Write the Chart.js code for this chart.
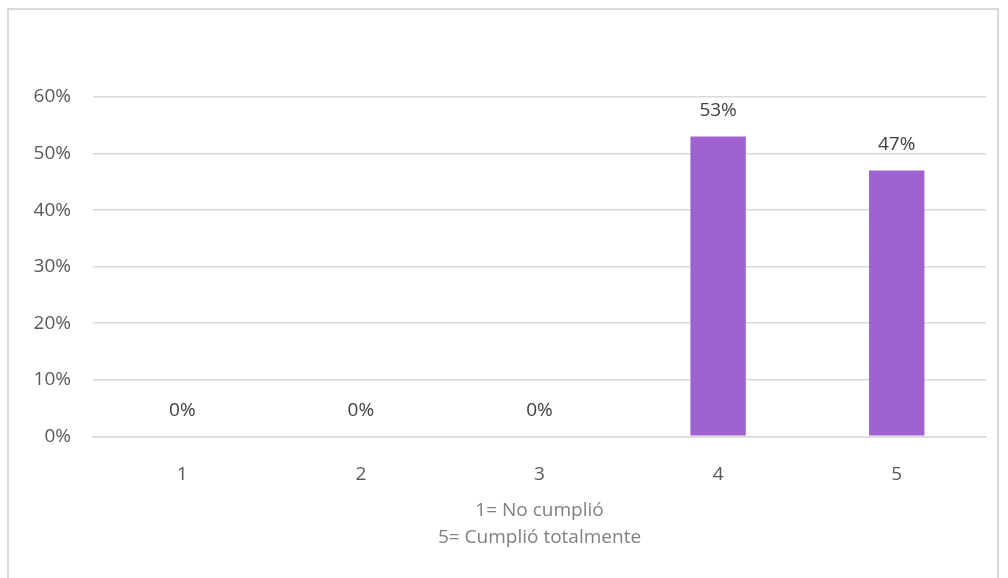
<!DOCTYPE html>
<html>
<head>
<meta charset="utf-8">
<script src="https://cdn.jsdelivr.net/npm/chart.js@4"></script>
<style>
  body { margin: 0; background: #fff; }
  #box {
    position: absolute; left: 7px; top: 8px; width: 992px; height: 580px;
    border: 2px solid #d9d9d9; box-sizing: border-box; background: #fff;
  }
</style>
</head>
<body>
<div id="box"><canvas id="myChart"></canvas></div>
<script>
'use strict';

// chart data
const categories = ['1', '2', '3', '4', '5'];
const percentValues = [0, 0, 0, 53, 47];
const yTicks = [0, 10, 20, 30, 40, 50, 60];
const axisTitle = ['1= No cumplió', '5= Cumplió totalmente'];

const fontFamily = "'Open Sans', 'Liberation Sans', sans-serif";

// draws the % label over each bar
const barLabels = {
  id: 'barLabels',
  afterDatasetsDraw(chart) {
    const ctx = chart.ctx;
    const meta = chart.getDatasetMeta(0);
    ctx.save();
    ctx.font = '19px ' + fontFamily;
    ctx.fillStyle = '#404040';
    ctx.textAlign = 'center';
    ctx.textBaseline = 'middle';
    meta.data.forEach((bar, i) => {
      ctx.fillText(percentValues[i] + '%', bar.x, bar.y - 26);
    });
    ctx.restore();
  },
};

const ctx = document.getElementById('myChart').getContext('2d');
const myChart = new Chart(ctx, {
  type: 'bar',
  data: {
    labels: categories,
    datasets: [
      {
        data: percentValues,
        backgroundColor: '#a061d1',
        borderWidth: 0,
        categoryPercentage: 1,
        barPercentage: 0.31,
      },
    ],
  },
  options: {
    responsive: true,
    maintainAspectRatio: false,
    animation: false,
    layout: { padding: { top: 87, right: 11, bottom: 30, left: 0 } },
    plugins: {
      legend: { display: false },
      tooltip: { enabled: false },
    },
    scales: {
      x: {
        grid: { display: false },
        border: { color: '#d9d9d9', width: 1.5 },
        ticks: { color: '#595959', font: { family: fontFamily, size: 19 }, padding: 19 },
        title: {
          display: true,
          text: axisTitle,
          color: '#808080',
          font: { family: fontFamily, size: 19, lineHeight: 1.47 },
          padding: { top: -9 },
        },
      },
      y: {
        min: 0,
        max: 60,
        afterFit: (scale) => { scale.width = 84; },
        afterBuildTicks: (scale) => { scale.ticks = yTicks.map((v) => ({ value: v })); },
        border: { display: false },
        grid: { color: '#d9d9d9', lineWidth: 1.5, drawTicks: false },
        ticks: {
          color: '#595959',
          font: { family: fontFamily, size: 19 },
          padding: 22,
          callback: (v) => v + '%',
        },
      },
    },
  },
  plugins: [barLabels],
});
</script>
</body>
</html>
